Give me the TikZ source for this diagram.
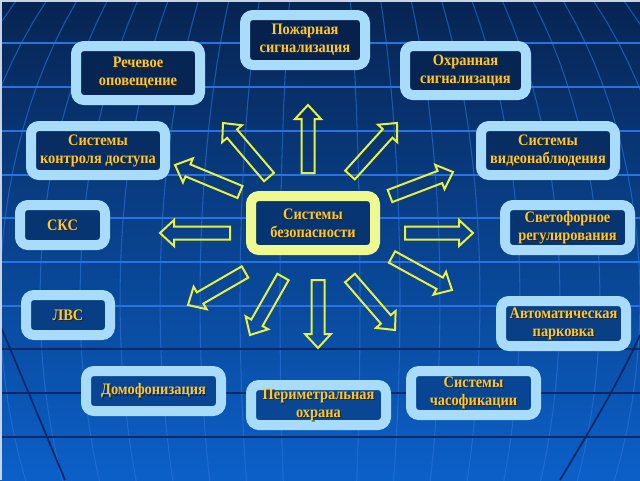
\documentclass[tikz,border=0pt]{standalone}
\usepackage{fontspec}
\newfontfamily\lblfont{Liberation Serif}[FakeStretch=0.9]
\definecolor{bgtop}{RGB}{7,36,82}
\definecolor{bgbot}{RGB}{11,96,200}
\definecolor{boxedge}{RGB}{168,220,250}
\definecolor{centeredge}{RGB}{240,248,144}
\definecolor{arrowc}{RGB}{232,240,64}
\definecolor{gold}{RGB}{248,200,56}
\definecolor{gridlight}{RGB}{40,115,225}
\definecolor{griddark}{RGB}{6,40,100}
\definecolor{meridc}{RGB}{45,115,220}
\definecolor{framec}{RGB}{200,212,228}
\newcommand\mkbox[7]{%
  \pgfmathtruncatemacro\mixp{100-#4/4.8}%
  \node[#1, minimum width=#5, minimum height=#6, fill={bgtop!\mixp!bgbot!82!black}] (#2) at (#3,#4) {};
  \node[shadowtxt] (#2-s) at ([xshift=0.9pt,yshift=-0.9pt]#2.center) {#7};
  \node[goldtxt] (#2-t) at (#2.center) {#7};
}
\newcommand\bigarrow[4]{%
  \pgfmathsetmacro\ang{atan2(#2-#4,#3-#1)}%
  \pgfmathsetmacro\len{veclen(#3-#1,#4-#2)}%
  \pgfmathsetmacro\hb{\len-14}%
  \begin{scope}[shift={(#1,#2)},rotate=\ang]
    \draw[arrowline] (0,-6.5) -- (\hb,-6.5) -- (\hb,-13) -- (\len,0) -- (\hb,13) -- (\hb,6.5) -- (0,6.5) -- cycle;
  \end{scope}
}
\begin{document}
\begin{tikzpicture}[x=0.75pt,y=-0.75pt,
  goldtxt/.style={text=gold, font=\lblfont\fontsize{12}{13.5}\selectfont\bfseries, align=center, inner sep=0pt},
  shadowtxt/.style={goldtxt, text=black!85},
  sysbox/.style={draw=boxedge, line width=7.5pt, rounded corners=6pt, inner sep=0pt},
  centerbox/.style={draw=centeredge, line width=7.5pt, rounded corners=6pt, inner sep=0pt},
  arrowline/.style={draw=arrowc, line width=1.5pt, line join=miter},
  hlight/.style={gridlight, line width=1.1pt},
  hdark/.style={griddark, line width=1.1pt},
  merid/.style={meridc, line width=0.8pt, opacity=0.6},
  limb/.style={griddark, line width=1.3pt}]
\useasboundingbox (0,0) rectangle (640,480);
% background
\shade[top color=bgtop, bottom color=bgbot] (0,0) rectangle (640,480);
\begin{scope}
\clip (0,0) rectangle (640,480);
\foreach \a in {40,80,...,440}{
  \draw[merid] plot[domain=-90:25, samples=40, variable=\t] ({320-\a*cos(\t)},{300+460*sin(\t)});
  \draw[merid] plot[domain=-90:25, samples=40, variable=\t] ({320+\a*cos(\t)},{300+460*sin(\t)});
}
\foreach \yy in {43,87,131,175,218,262,306}{\draw[hlight] (0,\yy) -- (640,\yy);}
\foreach \yy in {349,393,437}{\draw[hdark] (0,\yy) -- (640,\yy);}
\draw[limb] (0,325) .. controls (15,360) and (40,420) .. (65,480);
\draw[limb] (640,335) .. controls (620,380) and (590,430) .. (560,480);
\end{scope}
\draw[framec, line width=1.2pt] (0,0.8) -- (640,0.8);
\draw[framec, line width=1.2pt] (0.8,0) -- (0.8,480);
% arrows
\bigarrow{308}{173}{308}{105}
\bigarrow{269}{177}{223}{123}
\bigarrow{350}{175}{397}{123}
\bigarrow{240}{192}{175}{165}
\bigarrow{390}{196}{453}{172}
\bigarrow{230}{233}{160}{233}
\bigarrow{405}{233}{473}{233}
\bigarrow{392}{257}{452}{290}
\bigarrow{350}{278}{395}{330}
\bigarrow{318}{280}{318}{348}
\bigarrow{283}{277}{250}{335}
\bigarrow{245}{272}{188}{305}
% boxes
\mkbox{centerbox}{center}{313}{223}{93pt}{40.5pt}{Системы\\безопасности}
\mkbox{sysbox}{fire}{305}{40}{90pt}{37.5pt}{Пожарная\\сигнализация}
\mkbox{sysbox}{speech}{138}{73}{93pt}{40.5pt}{Речевое\\оповещение}
\mkbox{sysbox}{guard}{465.5}{70.5}{90.75pt}{36.75pt}{Охранная\\сигнализация}
\mkbox{sysbox}{access}{98}{150.5}{100.5pt}{36.75pt}{Системы\\контроля доступа}
\mkbox{sysbox}{video}{548}{150.5}{100.5pt}{36.75pt}{Системы\\видеонаблюдения}
\mkbox{sysbox}{sks}{62.5}{225}{63.75pt}{30pt}{СКС}
\mkbox{sysbox}{traffic}{567.5}{227.5}{93.75pt}{33.75pt}{Светофорное\\регулирования}
\mkbox{sysbox}{lvs}{68}{315}{63pt}{30pt}{ЛВС}
\mkbox{sysbox}{parking}{563.5}{323.5}{93.75pt}{33.75pt}{Автоматическая\\парковка}
\mkbox{sysbox}{intercom}{153.5}{391}{101.25pt}{30pt}{Домофонизация}
\mkbox{sysbox}{perimeter}{318.5}{405}{101.25pt}{30pt}{Периметральная\\охрана}
\mkbox{sysbox}{clock}{473.5}{393}{93.75pt}{33pt}{Системы\\часофикации}
\end{tikzpicture}
\end{document}
